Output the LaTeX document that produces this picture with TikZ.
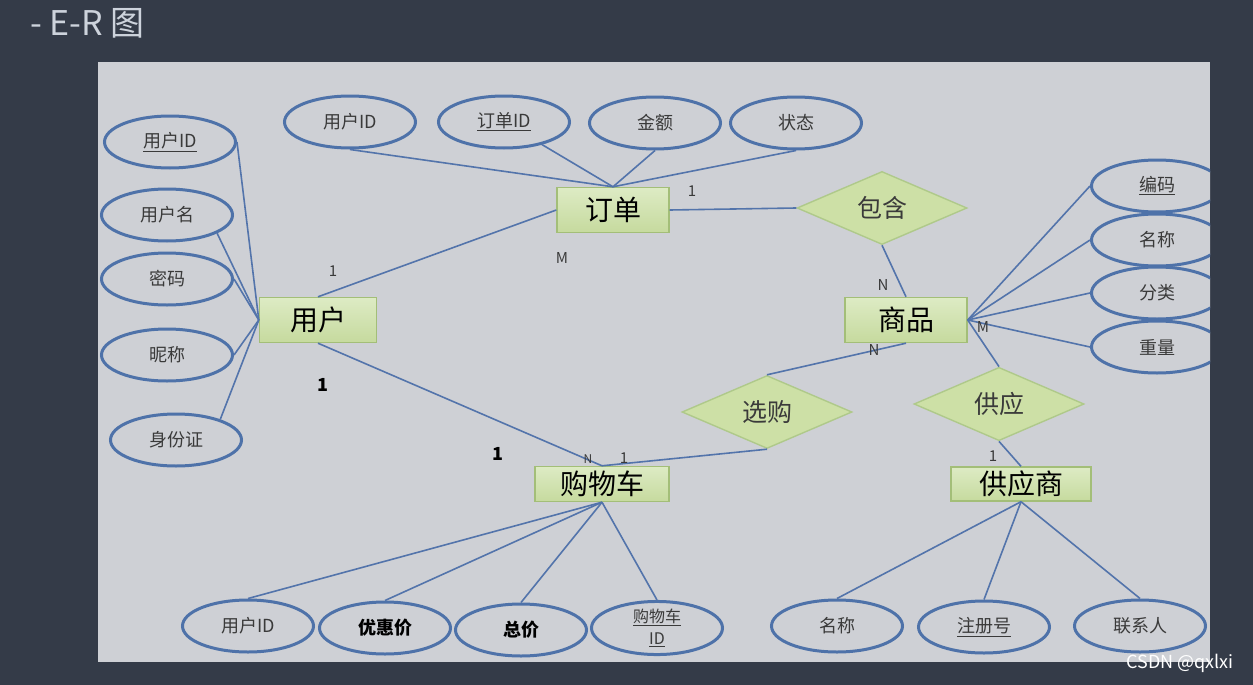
\documentclass[tikz,border=0pt]{standalone}
\usepackage{fontspec}
\setmainfont{Noto Sans CJK SC}
\usepackage{tikz}
\usetikzlibrary{shapes.geometric,positioning}

\definecolor{bgdark}{HTML}{343B48}
\definecolor{panel}{HTML}{CED0D5}
\definecolor{enttop}{HTML}{DDEBC4}
\definecolor{entbot}{HTML}{C6DA9E}
\definecolor{entline}{HTML}{A3BE78}
\definecolor{relfill}{HTML}{CDE0A6}
\definecolor{relline}{HTML}{AFC98A}
\definecolor{attrline}{HTML}{4E72A9}
\definecolor{linkblue}{HTML}{5374AB}
\definecolor{txtgray}{HTML}{3A3A3A}
\definecolor{titlegray}{HTML}{CDD3DC}

\begin{document}
\begin{tikzpicture}[x=1pt, y=-1pt,
    ent/.style={rectangle, draw=entline, line width=1.4pt, top color=enttop, bottom color=entbot,
      minimum height=45pt, inner sep=0pt, text=black, font=\fontsize{28}{30}\selectfont},
    rel/.style={diamond, draw=relline, line width=1.4pt, fill=relfill, minimum width=170pt,
      minimum height=56pt, inner sep=0pt, text=txtgray, font=\fontsize{25}{27}\selectfont},
    attr/.style={ellipse, draw=attrline, line width=3pt, fill=panel, minimum width=131pt,
      minimum height=52pt, inner sep=0pt, text=txtgray, font=\fontsize{18}{20}\selectfont},
    lnk/.style={draw=linkblue, line width=1.6pt},
    card/.style={text=txtgray, font=\fontsize{15}{15}\selectfont},
    cardb/.style={text=black, font=\bfseries\fontsize{18}{18}\selectfont}]
  \useasboundingbox (0,0) rectangle (1253,685);
  \fill[bgdark] (0,0) rectangle (1253,685);
  \fill[panel] (98,62) rectangle (1210,662);
  \node[anchor=west, text=titlegray, font=\fontsize{34}{36}\selectfont] (title) at (27,23) {- E-R 图};

  \begin{scope}
    \clip (98,62) rectangle (1210,662);
    % entities
    \node[ent, minimum width=112pt] (order) at (613,210) {订单};
    \node[ent, minimum width=117pt] (user)  at (318,320) {用户};
    \node[ent, minimum width=122pt] (goods) at (906,320) {商品};
    \node[ent, minimum width=134pt, minimum height=35pt] (cart) at (602,484) {购物车};
    \node[ent, minimum width=140pt, minimum height=34pt] (supp) at (1021,484) {供应商};
    % relations
    \node[rel] (contain) at (882,208) {包含};
    \node[rel] (choose)  at (767,412) {选购};
    \node[rel] (supply)  at (999,404) {供应};
    % attributes of order
    \node[attr] (oUid)   at (350,122) {用户ID};
    \node[attr] (oId)    at (504,122) {\underline{订单ID}};
    \node[attr] (oAmt)   at (655,123) {金额};
    \node[attr] (oState) at (796,123) {状态};
    % attributes of user
    \node[attr] (uId)   at (170,142) {\underline{用户ID}};
    \node[attr] (uName) at (167,215) {用户名};
    \node[attr] (uPwd)  at (167,279) {密码};
    \node[attr] (uNick) at (167,355) {昵称};
    \node[attr] (uCard) at (176,440) {身份证};
    % attributes of goods
    \node[attr] (gCode) at (1157,186) {\underline{编码}};
    \node[attr] (gName) at (1157,240) {名称};
    \node[attr] (gType) at (1157,293) {分类};
    \node[attr] (gWt)   at (1157,347) {重量};
    % attributes of cart
    \node[attr] (cUid)   at (248,626) {用户ID};
    \node[attr] (cDisc)  at (385,628) {\textbf{\color{black}优惠价}};
    \node[attr] (cTotal) at (521,630) {\textbf{\color{black}总价}};
    \node[attr, align=center, font=\fontsize{16}{22}\selectfont] (cId) at (657,628)
      {\underline{购物车}\\\underline{ID}};
    % attributes of supplier
    \node[attr] (sName) at (837,626) {名称};
    \node[attr] (sReg)  at (984,627) {\underline{注册号}};
    \node[attr] (sCon)  at (1140,626) {联系人};
  \end{scope}

  % connectors
  \foreach \a in {oUid.south, oId, oAmt.south, oState.south}
    \draw[lnk] (\a) -- (order.north);
  \foreach \a in {uId.east, uName.-20, uPwd.east, uNick.east, uCard.25}
    \draw[lnk] (\a) -- (user.west);
  \foreach \a in {gCode, gName, gType, gWt}
    \draw[lnk] (goods.east) -- (\a.west);
  \foreach \a in {cUid, cDisc, cTotal, cId}
    \draw[lnk] (cart.south) -- (\a.north);
  \foreach \a in {sName, sReg, sCon}
    \draw[lnk] (supp.south) -- (\a.north);
  \draw[lnk] (user.north) -- (order.west);
  \draw[lnk] (user.south) -- (cart.north);
  \draw[lnk] (order.east) -- (contain.west);
  \draw[lnk] (contain.south) -- (goods.north);
  \draw[lnk] (choose.north) -- (goods.south);
  \draw[lnk] (choose.south) -- (cart.north);
  \draw[lnk] (goods.east) -- (supply.north);
  \draw[lnk] (supply.south) -- (supp.north);

  % cardinalities
  \node[card]  (k1)  at (333,271) {1};
  \node[card]  (k2)  at (562,258) {M};
  \node[card]  (k3)  at (692,191) {1};
  \node[card]  (k4)  at (883,285) {N};
  \node[card]  (k5)  at (983,327) {M};
  \node[card]  (k6)  at (874,350) {N};
  \node[cardb] (k7)  at (323,385) {1};
  \node[cardb] (k8)  at (498,454) {1};
  \node[card, font=\fontsize{12}{12}\selectfont] (k9) at (588,459) {N};
  \node[card]  (k10) at (624,458) {1};
  \node[card]  (k11) at (993,456) {1};

  \node[text=white, font=\fontsize{18}{18}\selectfont] (wm) at (1180,663) {CSDN @qxlxi};
\end{tikzpicture}
\end{document}
